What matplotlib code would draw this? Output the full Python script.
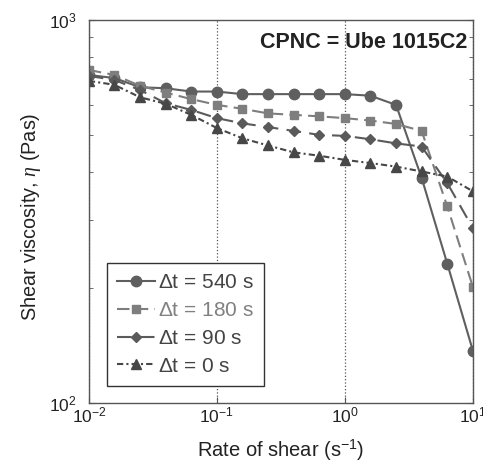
import numpy as np
import matplotlib
matplotlib.use("Agg")
import matplotlib.pyplot as plt
from matplotlib.ticker import LogLocator, NullLocator, NullFormatter

plt.rcParams['font.family'] = ['Liberation Sans', 'DejaVu Sans']
plt.rcParams['mathtext.fontset'] = 'custom'
plt.rcParams['mathtext.rm'] = 'Liberation Sans'
plt.rcParams['mathtext.it'] = 'Liberation Serif:italic'

# Shear rate (1/s), 5 points per decade
shear_rate = [0.01, 0.0158, 0.0251, 0.0398, 0.0631, 0.1, 0.158, 0.251,
              0.398, 0.631, 1.0, 1.58, 2.51, 3.98, 6.31, 10.0]

# Shear viscosity (Pa s) for each holding time
eta_540 = [718, 705, 667, 663, 650, 650, 640, 640, 640, 640, 640, 634, 600, 387, 231, 137]
eta_180 = [740, 718, 673, 646, 621, 600, 586, 570, 565, 560, 554, 546, 535, 513, 326, 201]
eta_90 = [714, 697, 656, 606, 582, 554, 537, 525, 513, 501, 498, 488, 476, 467, 375, 286]
eta_0 = [693, 677, 628, 604, 565, 522, 491, 470, 451, 442, 431, 423, 414, 402, 390, 357]

labels = [r'$\mathregular{\Delta}$t = 540 s', r'$\mathregular{\Delta}$t = 180 s',
          r'$\mathregular{\Delta}$t = 90 s', r'$\mathregular{\Delta}$t = 0 s']

fig = plt.figure(figsize=(4.83, 4.73), dpi=100)
ax = fig.add_axes([0.184, 0.148, 0.795, 0.810])

ax.plot(shear_rate, eta_540, color='#5f5f5f', lw=1.5, ls='-', marker='o', ms=7.5,
        label=labels[0])
ax.plot(shear_rate, eta_180, color='#7e7e7e', lw=1.5, ls=(0, (6, 3)), marker='s', ms=6,
        label=labels[1])
ax.plot(shear_rate, eta_90, color='#5a5a5a', lw=1.5, ls=(0, (7, 4)), marker='D', ms=5.5,
        label=labels[2])
ax.plot(shear_rate, eta_0, color='#474747', lw=1.5, ls=(0, (3, 1.5, 1, 1.5)), marker='^', ms=7,
        label=labels[3])

ax.set_xscale('log')
ax.set_yscale('log')
ax.set_xlim(1e-2, 1e1)
ax.set_ylim(1e2, 1e3)

ax.xaxis.set_major_locator(LogLocator(base=10, numticks=10))
ax.xaxis.set_minor_locator(NullLocator())
ax.yaxis.set_minor_locator(LogLocator(base=10, subs=np.arange(2, 10), numticks=10))
ax.yaxis.set_minor_formatter(NullFormatter())

ax.tick_params(which='both', direction='in', top=False, right=True,
               labelsize=12.5, colors='#555555', labelcolor='#222222')
ax.tick_params(which='major', length=4)
ax.tick_params(which='minor', length=3)
ax.tick_params(axis='x', pad=2)
ax.tick_params(axis='y', pad=9)
for lab in ax.get_yticklabels():
    lab.set_verticalalignment('center_baseline')
for s in ax.spines.values():
    s.set_color('#555555')
    s.set_linewidth(1.0)

ax.grid(True, which='major', axis='x', ls=':', color='#555555', lw=0.9)

ax.set_xlabel(r'Rate of shear (s$^{\mathregular{-1}}$)', fontsize=14.5, color='#222222',
              labelpad=9)
ax.set_ylabel(r'Shear viscosity, $\eta$ (Pas)', fontsize=14.3, color='#222222')
ax.yaxis.set_label_coords(-0.12, 0.485)

ax.text(0.985, 0.94, 'CPNC = Ube 1015C2', transform=ax.transAxes, ha='right', va='center',
        fontsize=15.5, fontweight='bold', color='#222222')

leg = ax.legend(loc='lower left', bbox_to_anchor=(0.047, 0.044), fontsize=15,
                frameon=True, fancybox=False, edgecolor='#333333', framealpha=1,
                handlelength=1.8, handletextpad=0.15, borderpad=0.5, labelspacing=0.42,
                borderaxespad=0)
leg.get_frame().set_linewidth(1.0)
for t, c in zip(leg.get_texts(), ['#444444', '#808080', '#444444', '#444444']):
    t.set_color(c)

fig.savefig('out.png', dpi=100)
